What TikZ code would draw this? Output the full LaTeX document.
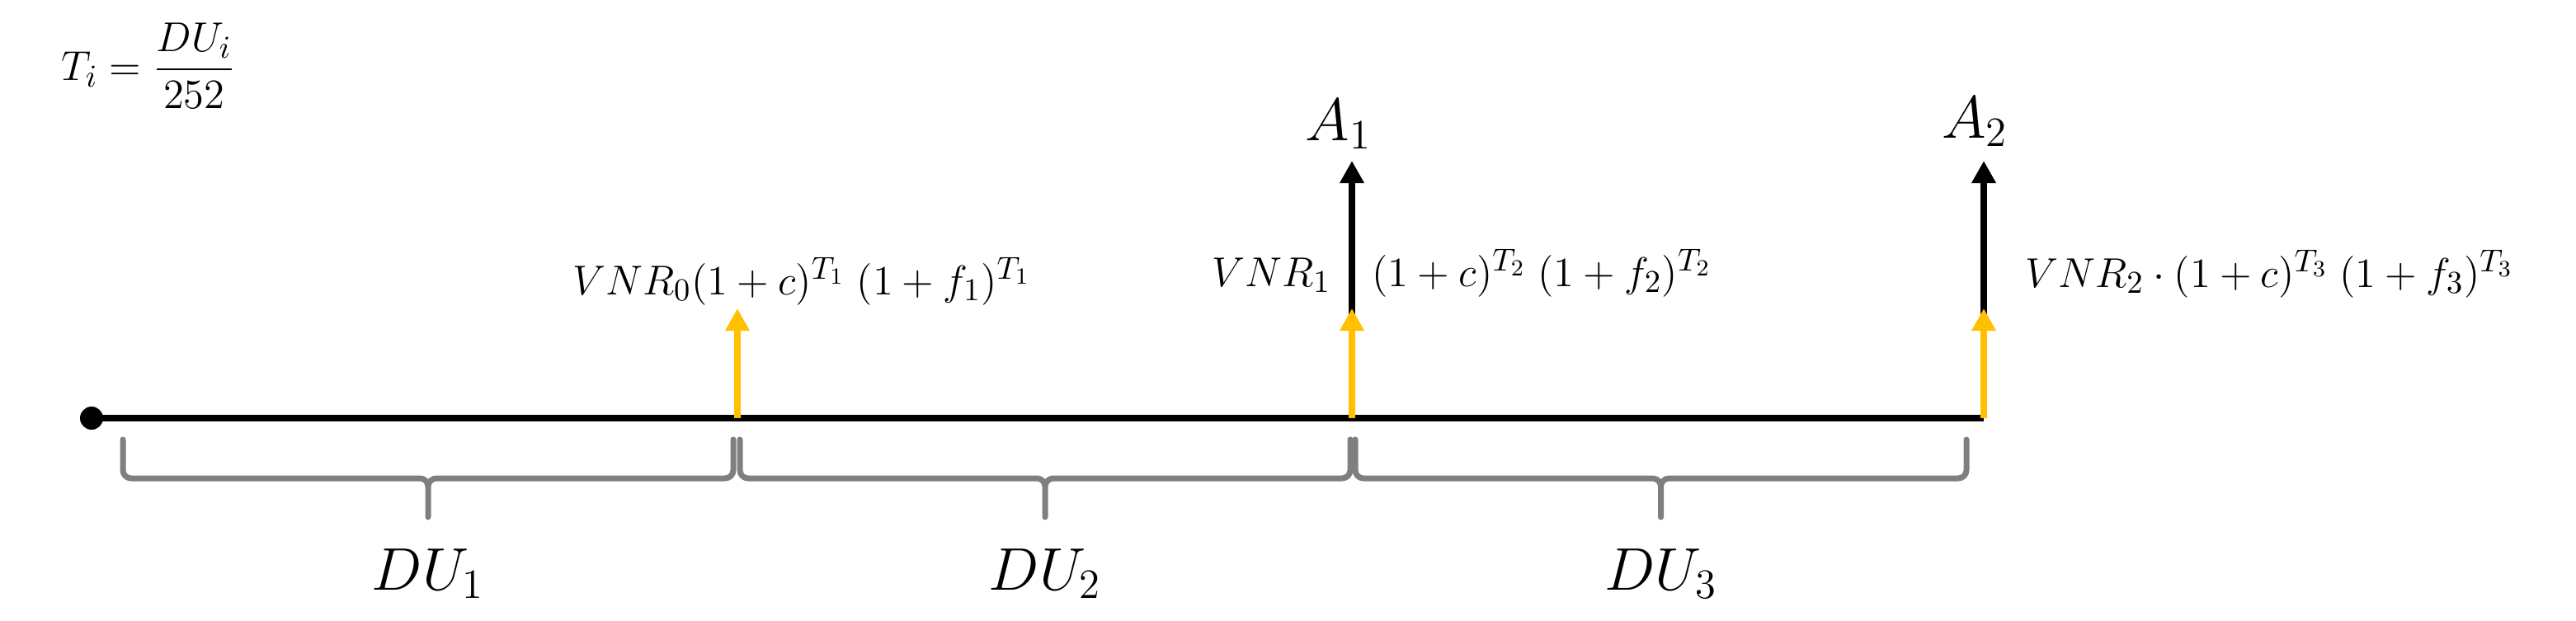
\documentclass[tikz,border=0pt]{standalone}
\usepackage{amsmath}
\usetikzlibrary{arrows.meta}
\definecolor{ouro}{HTML}{FFC000}
\definecolor{cinza}{HTML}{7F7F7F}

\begin{document}
\begin{tikzpicture}[
	linha/.style={line width=0.85mm},
	fluxo/.style={line width=0.85mm, -{Triangle[width=2.8mm,length=2.7mm]}},
	chave/.style={cinza, line width=0.7mm, line cap=round, line join=round},
	rotulo/.style={inner sep=0pt, font=\fontsize{15.6}{19}\selectfont},
	grande/.style={inner sep=0pt, font=\fontsize{21}{25}\selectfont}]

\useasboundingbox (0,0) rectangle (31.23,7.52);

\node[inner sep=0pt, font=\fontsize{15}{18}\selectfont] (Ti) at (1.8,6.72) {$T_i=\dfrac{DU_i}{252}$};

% Linha do tempo
\coordinate (P0) at (1.11,2.45);
\coordinate (P1) at (8.94,2.45);
\coordinate (P2) at (16.39,2.45);
\coordinate (P3) at (24.05,2.45);
\draw[linha] (P0) -- (P3);
\fill (P0) circle (0.14);

% Saques
\coordinate (S1) at (16.39,5.57);
\coordinate (S2) at (24.05,5.57);
\draw[fluxo] (P2) -- (S1);
\draw[fluxo] (P3) -- (S2);
\node[grande, anchor=base] (A1) at (16.23,5.82) {$A_1$};
\node[grande, anchor=base] (A2) at (23.94,5.85) {$A_2$};

% Aportes
\foreach \p [count=\i] in {P1, P2, P3}
	\draw[fluxo, ouro] (\p) -- ++(0,1.33) coordinate (Y\i);

\node[rotulo, anchor=base] (V0) at (9.72,3.95) {$VNR_0(1+c)^{T_1}\;(1+f_1)^{T_1}$};
\node[rotulo, anchor=base east] (V1) at (16.14,4.05) {$VNR_1$};
\node[rotulo, anchor=base west] (F1) at (16.63,4.05) {$(1+c)^{T_2}\;(1+f_2)^{T_2}$};
\node[rotulo, anchor=base west] (V2) at (24.55,4.04) {$VNR_2\cdot(1+c)^{T_3}\;(1+f_3)^{T_3}$};

% Chaves
\foreach \a/\b [count=\n] in {1.49/8.89, 8.97/16.37, 16.43/23.84} {
	\pgfmathsetmacro\c{(\a+\b)/2}
	\draw[chave] (\a,2.19) -- (\a,1.82) to[out=-90,in=180] (\a+0.1,1.72) -- (\c-0.1,1.72)
		to[out=0,in=90] (\c,1.62) -- (\c,1.25) coordinate (B\n) -- (\c,1.62)
		to[out=90,in=180] (\c+0.1,1.72) -- (\b-0.1,1.72) to[out=0,in=-90] (\b,1.82) -- (\b,2.19);
	\node[grande, anchor=base] (DU\n) at (\c,0.37) {$DU_\n$};
}
\end{tikzpicture}
\end{document}
